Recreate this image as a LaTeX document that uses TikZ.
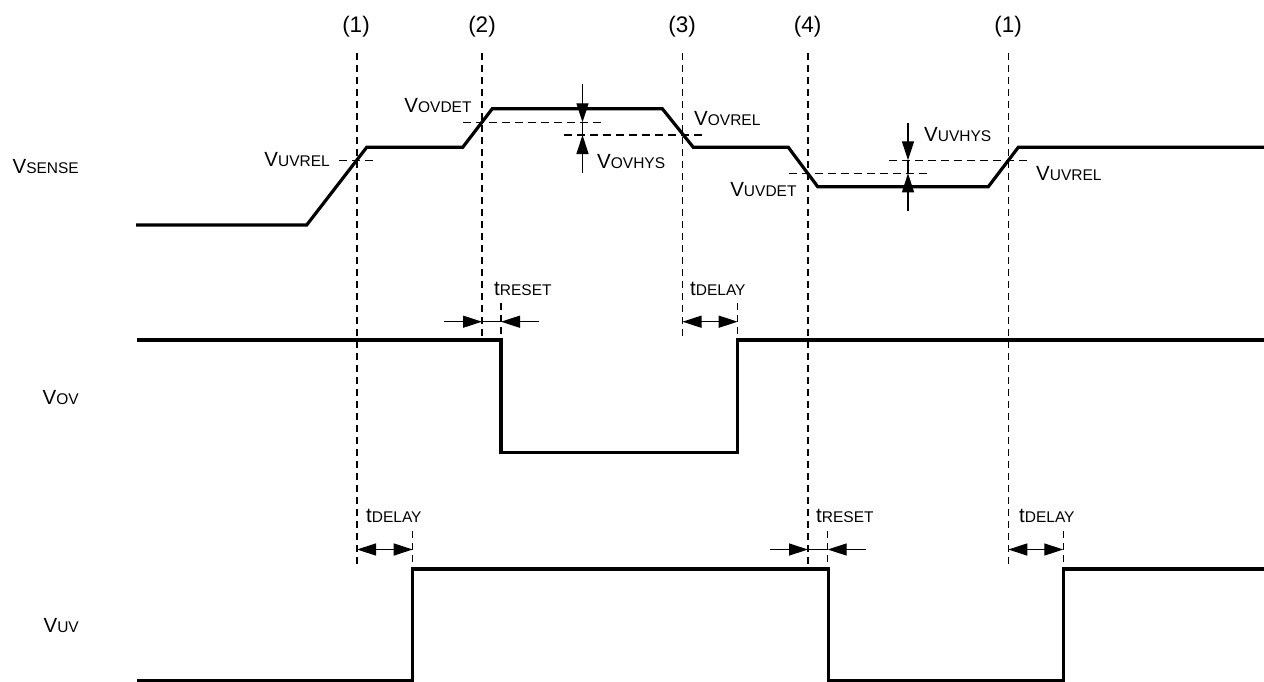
\documentclass[tikz,border=0pt]{standalone}
\usepackage{fontspec}
\setmainfont{Liberation Sans}
\usetikzlibrary{arrows.meta}
\newcommand\bigsz{\fontsize{20.5}{24}\selectfont}
\newcommand\smsz{\fontsize{15.5}{18}\selectfont}
\newcommand\tsig[2]{{\bigsz #1}{\smsz #2}}
\tikzset{
  wave/.style={line width=3.2pt, line join=miter},
  guide/.style={line width=1.3pt, dash pattern=on 7pt off 5pt},
  thr/.style={line width=1.3pt, dash pattern=on 8pt off 5pt},
  dimline/.style={line width=1.3pt},
  tip/.tip={Triangle[length=19pt,width=12pt]},
  toarr/.style={dimline, -tip},
  twoarr/.style={dimline, tip-tip},
  lblR/.style={anchor=base east, inner sep=0pt},
  lblL/.style={anchor=base west, inner sep=0pt},
  numlbl/.style={anchor=base, inner sep=0pt, font=\fontsize{22.5}{26}\selectfont}
}
\begin{document}
\begin{tikzpicture}[x=1pt,y=-1pt]
\useasboundingbox (0,0) rectangle (1264,681);

% ---- marker labels
\node[numlbl] (n1) at (356,32) {(1)};
\node[numlbl] (n2) at (482,32) {(2)};
\node[numlbl] (n3) at (682,32) {(3)};
\node[numlbl] (n4) at (807.5,32) {(4)};
\node[numlbl] (n5) at (1008,32) {(1)};

% ---- signal names
\node[lblR] (lsense) at (79,173) {\tsig{V}{SENSE}};
\node[lblR] (lov) at (79,404) {\tsig{V}{OV}};
\node[lblR] (luv) at (79,632) {\tsig{V}{UV}};

% ---- vertical guides
\coordinate (g1t) at (357,53);   \coordinate (g1b) at (357,568);
\coordinate (g2t) at (482,53);   \coordinate (g2b) at (482,340);
\coordinate (g3t) at (682.5,53); \coordinate (g3b) at (682.5,340);
\coordinate (g4t) at (808,53);   \coordinate (g4b) at (808,568);
\coordinate (g5t) at (1008.3,53);\coordinate (g5b) at (1008.3,568);
\draw[guide] (g1t) -- (g1b);
\draw[guide] (g2t) -- (g2b);
\draw[guide] (g3t) -- (g3b);
\draw[guide] (g4t) -- (g4b);
\draw[guide] (g5t) -- (g5b);
% short guides at output edges
\coordinate (s1t) at (501,303);    \coordinate (s1b) at (501,340);
\coordinate (s2t) at (737.7,303);  \coordinate (s2b) at (737.7,340);
\coordinate (s3t) at (412.7,531);  \coordinate (s3b) at (412.7,569);
\coordinate (s4t) at (827.7,531);  \coordinate (s4b) at (827.7,569);
\coordinate (s5t) at (1063.3,531); \coordinate (s5b) at (1063.3,569);
\draw[guide] (s1t) -- (s1b);
\draw[guide] (s2t) -- (s2b);
\draw[guide] (s3t) -- (s3b);
\draw[guide] (s4t) -- (s4b);
\draw[guide] (s5t) -- (s5b);

% ---- threshold lines
\draw[thr] (339,160.7) -- (376,160.7);
\draw[thr] (463,122.3) -- (601.7,122.3);
\draw[thr] (564,135) -- (701.7,135);
\draw[thr] (788.7,173.3) -- (927.3,173.3);
\draw[thr] (889,160.3) -- (1028.3,160.3);

% ---- threshold labels
\node[lblR] (uvrel1) at (330,166) {\tsig{V}{UVREL}};
\node[lblR] (ovdet) at (471.7,112.5) {\tsig{V}{OVDET}};
\node[lblL] (ovhys) at (597,168) {\tsig{V}{OVHYS}};
\node[lblL] (ovrel) at (694,125.5) {\tsig{V}{OVREL}};
\node[lblR] (uvdet) at (796.7,196) {\tsig{V}{UVDET}};
\node[lblL] (uvhys) at (924,141.7) {\tsig{V}{UVHYS}};
\node[lblL] (uvrel2) at (1036,180) {\tsig{V}{UVREL}};

% ---- hysteresis arrows
\coordinate (oh0) at (582.5,84);  \coordinate (oh1) at (582.5,122.3);
\coordinate (oh2) at (582.5,135); \coordinate (oh3) at (582.5,172.7);
\draw[toarr] (oh0) -- (oh1);
\draw[dimline] (oh1) -- (oh2);
\draw[toarr] (oh3) -- (oh2);
\coordinate (uh0) at (908,123.3); \coordinate (uh1) at (908,160.3);
\coordinate (uh2) at (908,173.3); \coordinate (uh3) at (908,210.7);
\draw[toarr] (uh0) -- (uh1);
\draw[dimline] (uh1) -- (uh2);
\draw[toarr] (uh3) -- (uh2);

% ---- timing arrows
\coordinate (ra0) at (444,321.7);  \coordinate (ra1) at (482,321.7);
\coordinate (ra2) at (501,321.7);  \coordinate (ra3) at (539,321.7);
\draw[toarr] (ra0) -- (ra1);
\draw[dimline] (ra1) -- (ra2);
\draw[toarr] (ra3) -- (ra2);
\node[lblL] (treset1) at (494,295) {\tsig{t}{RESET}};

\coordinate (da0) at (682.5,321.7); \coordinate (da1) at (737.7,321.7);
\draw[twoarr] (da0) -- (da1);
\node[lblL] (tdelay1) at (690,295) {\tsig{t}{DELAY}};

\coordinate (db0) at (357,549.5); \coordinate (db1) at (412.7,549.5);
\draw[twoarr] (db0) -- (db1);
\node[lblL] (tdelay2) at (366,522) {\tsig{t}{DELAY}};

\coordinate (rb0) at (770,549.5);  \coordinate (rb1) at (808,549.5);
\coordinate (rb2) at (827.7,549.5); \coordinate (rb3) at (865.7,549.5);
\draw[toarr] (rb0) -- (rb1);
\draw[dimline] (rb1) -- (rb2);
\draw[toarr] (rb3) -- (rb2);
\node[lblL] (treset2) at (816,522) {\tsig{t}{RESET}};

\coordinate (dc0) at (1008.3,549.5); \coordinate (dc1) at (1063.3,549.5);
\draw[twoarr] (dc0) -- (dc1);
\node[lblL] (tdelay3) at (1019,522) {\tsig{t}{DELAY}};

% ---- waveforms
\draw[wave] (136,225) -- (306.7,225) -- (366.7,147.3) -- (462.7,147.3)
  -- (492.3,108.7) -- (662.3,108.7) -- (693.3,147.3) -- (788.3,147.3)
  -- (817.7,186.7) -- (988.3,186.7) -- (1018.3,147.3) -- (1264,147.3);
\draw[wave] (137,340) -- (501,340) -- (501,452.7) -- (737.7,452.7)
  -- (737.7,340) -- (1264,340);
\draw[wave] (137,680.5) -- (412.7,680.5) -- (412.7,569) -- (828.3,569)
  -- (828.3,680.5) -- (1063.3,680.5) -- (1063.3,569) -- (1264,569);
\end{tikzpicture}
\end{document}
